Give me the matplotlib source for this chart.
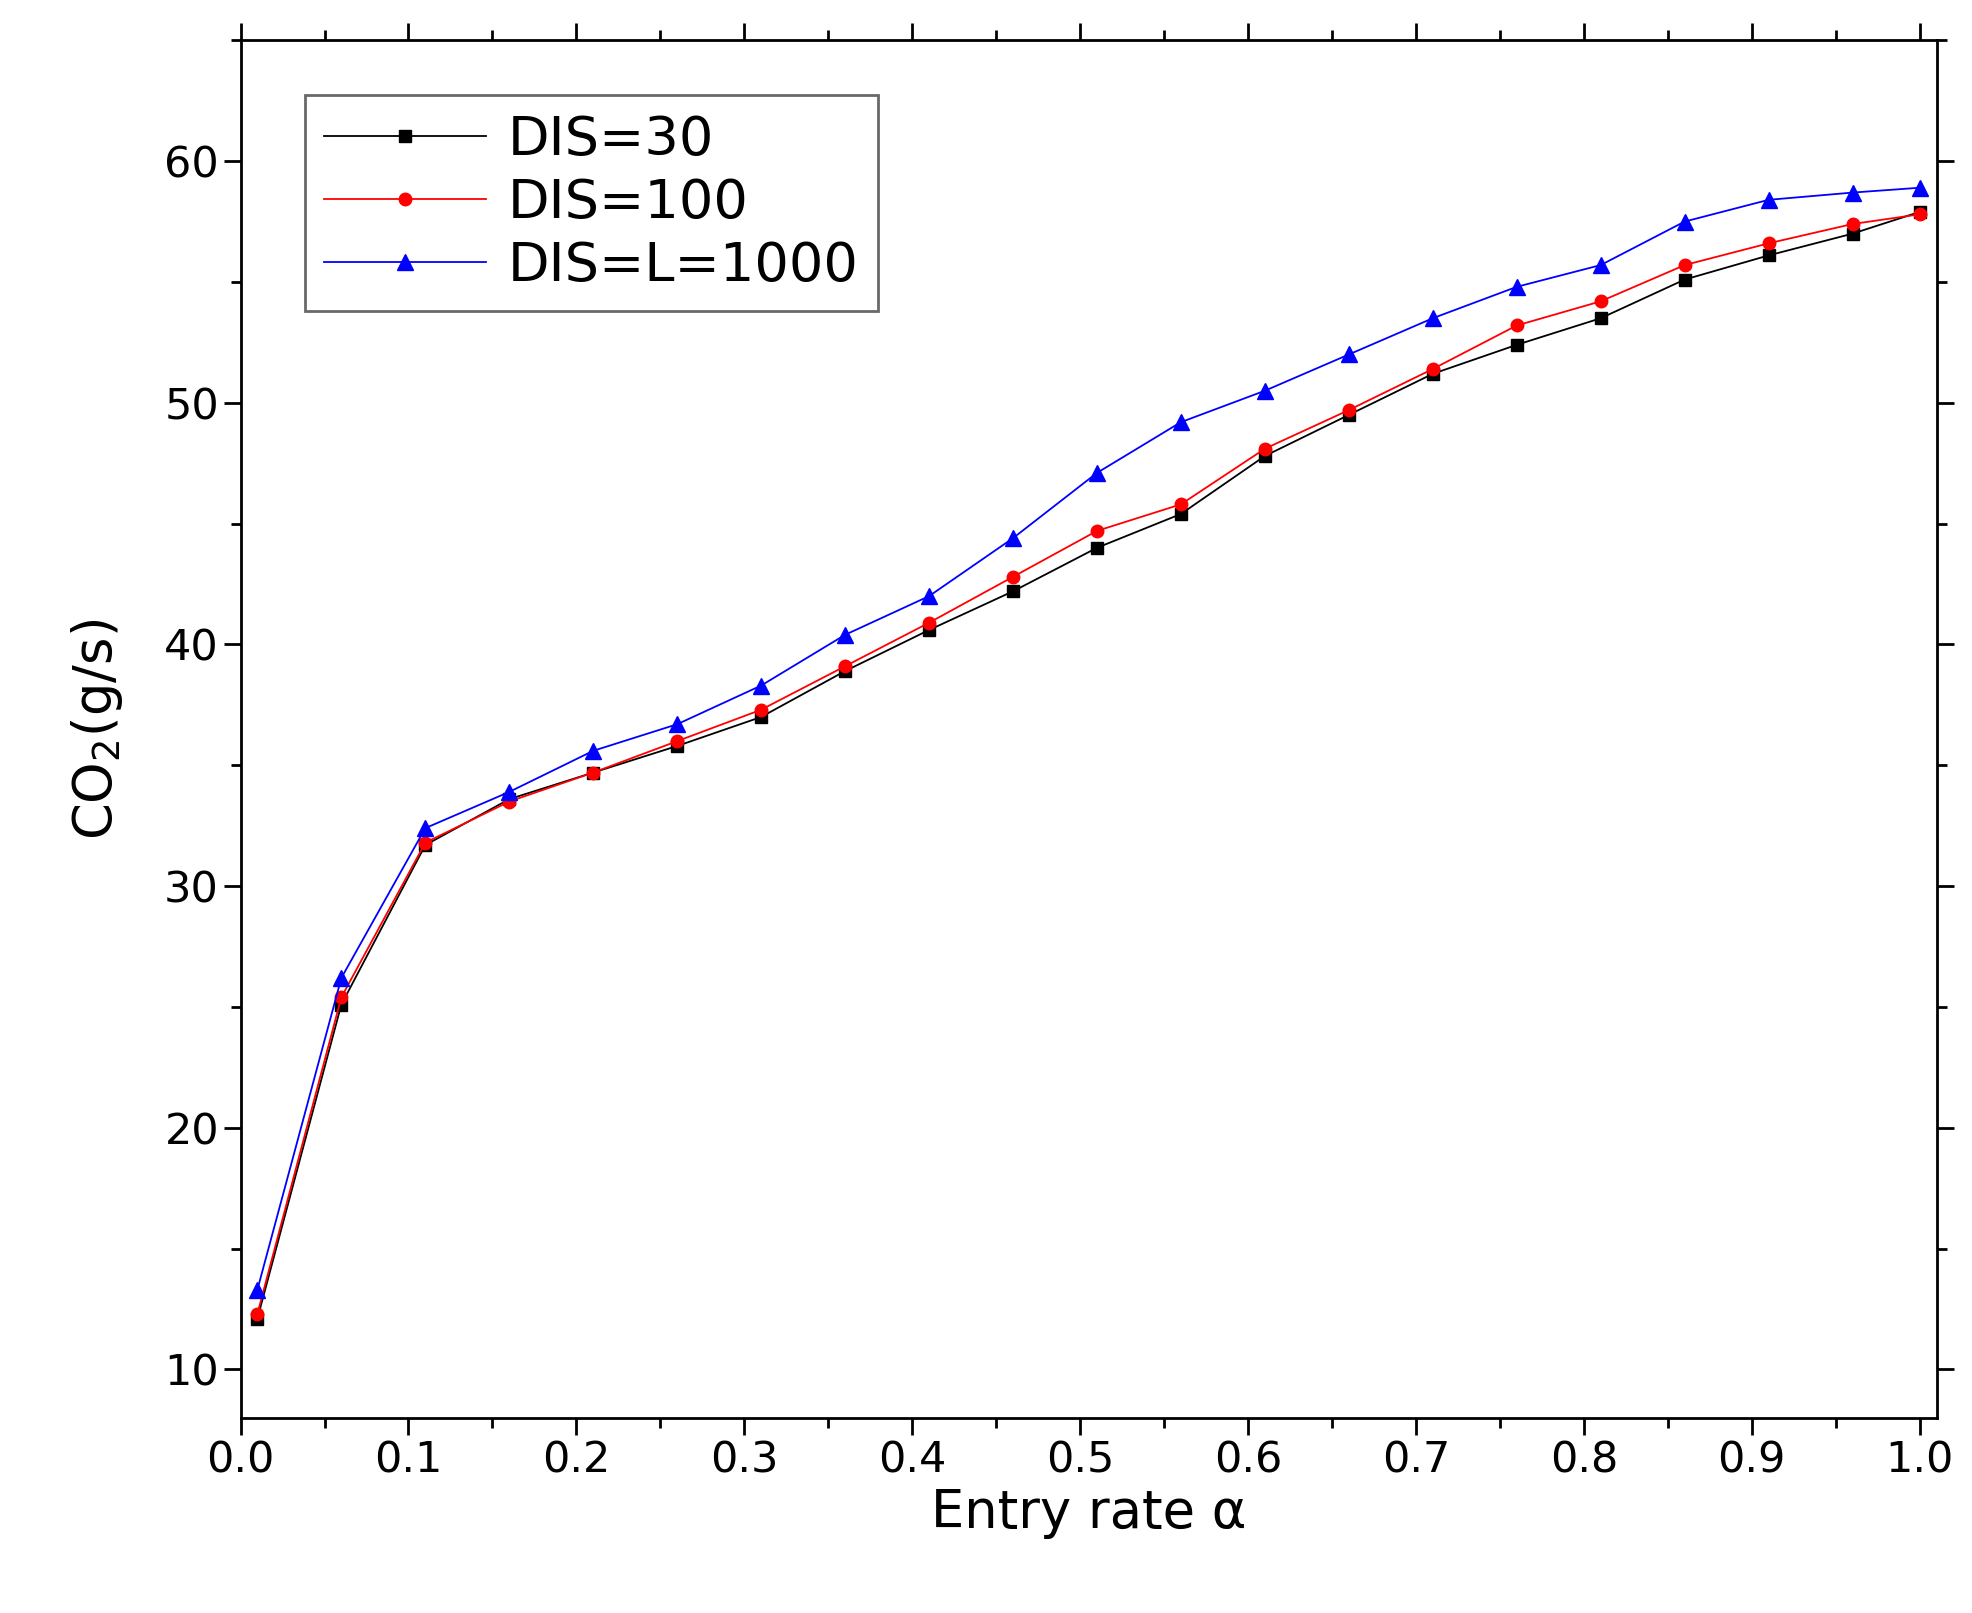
import matplotlib.pyplot as plt
from matplotlib.ticker import MultipleLocator

alpha = [0.01, 0.06, 0.11, 0.16, 0.21, 0.26, 0.31, 0.36, 0.41, 0.46, 0.51,
         0.56, 0.61, 0.66, 0.71, 0.76, 0.81, 0.86, 0.91, 0.96, 1.0]
dis_30 = [12.1, 25.1, 31.7, 33.6, 34.7, 35.8, 37.0, 38.9, 40.6, 42.2, 44.0,
          45.4, 47.8, 49.5, 51.2, 52.4, 53.5, 55.1, 56.1, 57.0, 57.9]
dis_100 = [12.3, 25.4, 31.8, 33.5, 34.7, 36.0, 37.3, 39.1, 40.9, 42.8, 44.7,
           45.8, 48.1, 49.7, 51.4, 53.2, 54.2, 55.7, 56.6, 57.4, 57.8]
dis_1000 = [13.3, 26.2, 32.4, 33.9, 35.6, 36.7, 38.3, 40.4, 42.0, 44.4, 47.1,
            49.2, 50.5, 52.0, 53.5, 54.8, 55.7, 57.5, 58.4, 58.7, 58.9]

fig = plt.figure(figsize=(19.72, 16.13), dpi=100)
ax = fig.add_axes([0.122, 0.121, 0.86, 0.854])

ax.plot(alpha, dis_30, color="black", marker="s", markersize=9, linewidth=1.3, label="DIS=30")
ax.plot(alpha, dis_100, color="red", marker="o", markersize=9, linewidth=1.3, label="DIS=100")
ax.plot(alpha, dis_1000, color="blue", marker="^", markersize=11, linewidth=1.3, label="DIS=L=1000")

ax.set_xlim(0, 1.01)
ax.set_ylim(8, 65)
ax.xaxis.set_major_locator(MultipleLocator(0.1))
ax.xaxis.set_minor_locator(MultipleLocator(0.05))
ax.yaxis.set_major_locator(MultipleLocator(10))
ax.yaxis.set_minor_locator(MultipleLocator(5))
ax.tick_params(which="both", direction="out", top=True, right=True, width=2, labelsize=31)
ax.tick_params(which="major", length=12)
ax.tick_params(which="minor", length=7)
for s in ax.spines.values():
    s.set_linewidth(2)

ax.set_xlabel("Entry rate α", fontsize=38)
ax.set_ylabel("CO$_2$(g/s)", fontsize=38, labelpad=28)

leg = ax.legend(loc="upper left", bbox_to_anchor=(0.022, 0.98), fontsize=39, fancybox=False,
                edgecolor="#444444", handlelength=3.0, handletextpad=0.4,
                borderpad=0.35, labelspacing=0.2)
leg.get_frame().set_linewidth(2)

fig.savefig("out.png")
